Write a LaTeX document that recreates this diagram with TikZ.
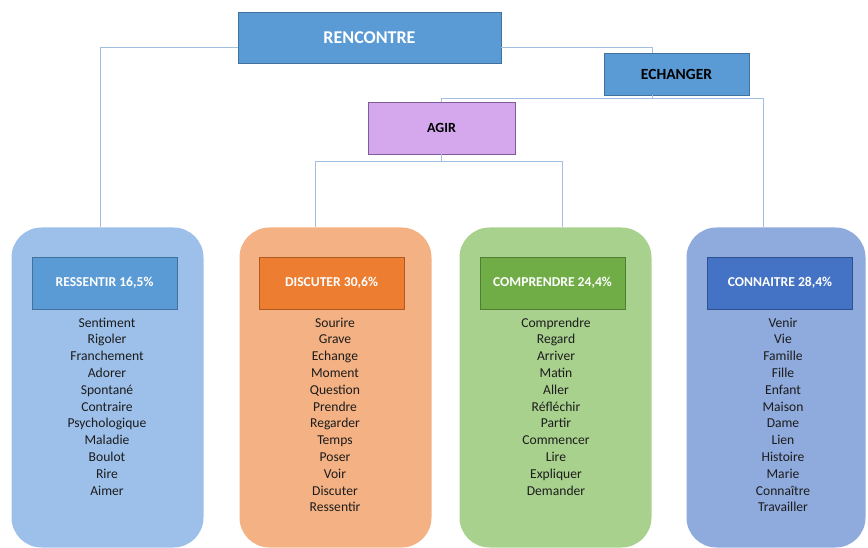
\documentclass[tikz,border=0pt]{standalone}
\usepackage{fontspec}
\setmainfont{Carlito}
\definecolor{topblue}{HTML}{5B9BD5}
\definecolor{topblueB}{HTML}{41719C}
\definecolor{agirfill}{HTML}{D5A8EE}
\definecolor{agirB}{HTML}{7E5C9A}
\definecolor{resbox}{HTML}{9DC0EA}
\definecolor{reshead}{HTML}{5B9BD5}
\definecolor{resheadB}{HTML}{41719C}
\definecolor{disbox}{HTML}{F4B183}
\definecolor{dishead}{HTML}{ED7D31}
\definecolor{disheadB}{HTML}{AE5A21}
\definecolor{combox}{HTML}{A9D18E}
\definecolor{comhead}{HTML}{70AD47}
\definecolor{comheadB}{HTML}{507E32}
\definecolor{conbox}{HTML}{8FAADC}
\definecolor{conhead}{HTML}{4472C4}
\definecolor{conheadB}{HTML}{2F528F}
\definecolor{linkc}{HTML}{A3BEE3}
\definecolor{wordc}{HTML}{1C1C1C}
\tikzset{
  topbox/.style={draw=topblueB, fill=topblue, line width=0.8pt, inner sep=0pt, font=\bfseries},
  catbox/.style={rounded corners=30pt, minimum width=192pt, minimum height=320pt, inner sep=0pt, draw=none},
  headbox/.style={line width=0.8pt, minimum width=145pt, minimum height=52pt, inner sep=0pt, text=white, font=\fontsize{13.6}{15}\selectfont\bfseries},
  word/.style={anchor=base, inner sep=0pt, text=wordc, font=\fontsize{13.6}{16}\selectfont},
  link/.style={draw=linkc, line width=0.8pt}
}
\begin{document}
\begin{tikzpicture}[x=1pt,y=1pt]
\useasboundingbox (0,0) rectangle (868,-548);
% top boxes
\node[topbox, minimum width=263pt, minimum height=51pt, text=white, font=\fontsize{18}{20}\selectfont\bfseries] (ren) at (369.5,-37.5) {RENCONTRE};
\node[topbox, minimum width=145pt, minimum height=42pt, text=black, font=\fontsize{15.5}{18}\selectfont\bfseries] (ech) at (676.5,-74) {ECHANGER};
\node[draw=agirB, fill=agirfill, line width=0.8pt, inner sep=0pt, minimum width=147pt, minimum height=52pt, font=\fontsize{14}{16}\selectfont\bfseries] (agir) at (441.5,-128) {AGIR};
% category boxes
\node[catbox, fill=resbox] (res) at (107.5,-387.5) {};
\node[catbox, fill=disbox] (dis) at (335.5,-387.5) {};
\node[catbox, fill=combox] (com) at (555.5,-387.5) {};
\node[catbox, fill=conbox, minimum width=179pt] (con) at (776,-387.5) {};
% headers
\node[headbox, fill=reshead, draw=resheadB] (resh) at (104.5,-283) {RESSENTIR 16,5\%};
\node[headbox, fill=dishead, draw=disheadB] (dish) at (331.5,-283) {DISCUTER 30,6\%};
\node[headbox, fill=comhead, draw=comheadB] (comh) at (552.5,-283) {COMPRENDRE 24,4\%};
\node[headbox, fill=conhead, draw=conheadB] (conh) at (780,-283) {CONNAITRE 28,4\%};
% words
\foreach \w [count=\i] in {Sentiment,Rigoler,Franchement,Adorer,Spontané,Contraire,Psychologique,Maladie,Boulot,Rire,Aimer}
  \node[word] (resw\i) at (107,{-327-16.8*(\i-1)}) {\w};
\foreach \w [count=\i] in {Sourire,Grave,Echange,Moment,Question,Prendre,Regarder,Temps,Poser,Voir,Discuter,Ressentir}
  \node[word] (disw\i) at (335,{-327-16.8*(\i-1)}) {\w};
\foreach \w [count=\i] in {Comprendre,Regard,Arriver,Matin,Aller,Réfléchir,Partir,Commencer,Lire,Expliquer,Demander}
  \node[word] (comw\i) at (556,{-327-16.8*(\i-1)}) {\w};
\foreach \w [count=\i] in {Venir,Vie,Famille,Fille,Enfant,Maison,Dame,Lien,Histoire,Marie,Connaître,Travailler}
  \node[word] (conw\i) at (783,{-327-16.8*(\i-1)}) {\w};
% connectors
\draw[link] ([yshift=-9.5pt]ren.west) -| ([xshift=-7.5pt]res.north);
\draw[link] ([yshift=-9.5pt]ren.east) -| ([xshift=-24.5pt]ech.north);
\coordinate (echj) at ([xshift=-24.5pt,yshift=-3.5pt]ech.south);
\draw[link] ([xshift=-24.5pt]ech.south) -- (echj);
\draw[link] (echj) -| (agir.north);
\draw[link] (echj) -| ([xshift=-13pt]con.north);
\coordinate (agj) at ([yshift=-7pt]agir.south);
\draw[link] (agir.south) -- (agj);
\draw[link] (agj) -| ([xshift=-20.5pt]dis.north);
\draw[link] (agj) -| ([xshift=6.5pt]com.north);
\end{tikzpicture}
\end{document}
